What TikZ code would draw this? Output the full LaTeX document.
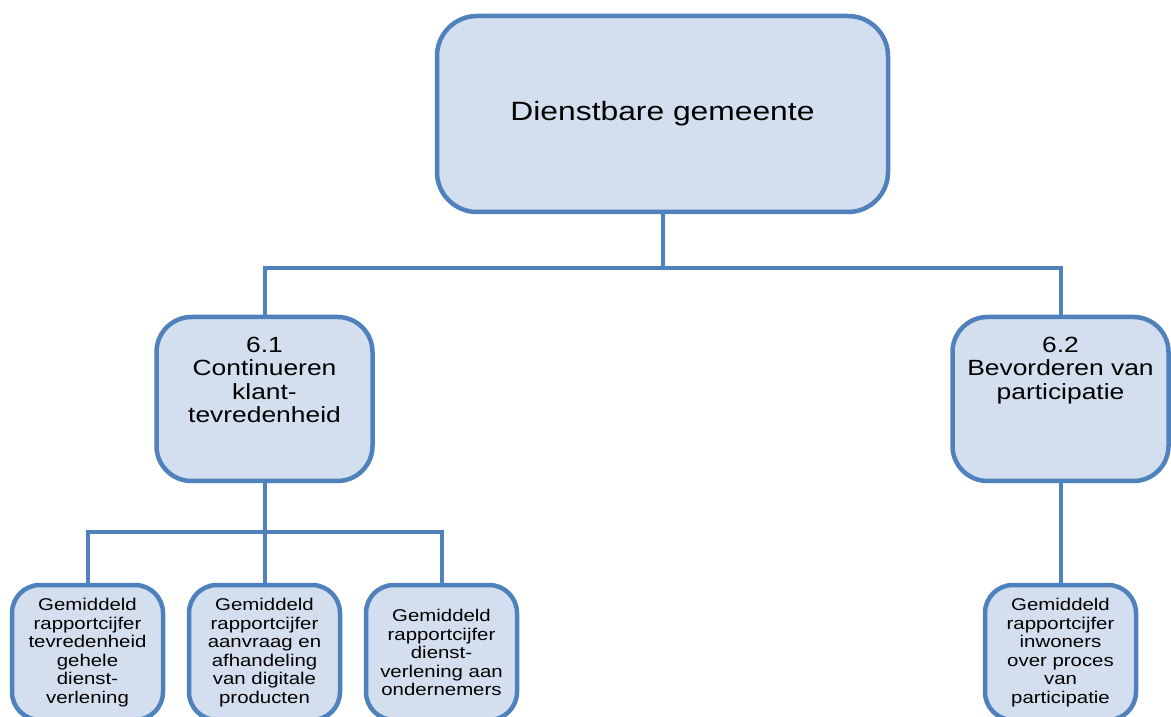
\documentclass[tikz,border=0pt]{standalone}
\usepackage{fontspec}
\setmainfont{Liberation Sans}[FakeStretch=1.2]
\usetikzlibrary{positioning}
\usepackage{xcolor}
\definecolor{boxline}{HTML}{4F81BD}
\definecolor{boxfill}{HTML}{D3DFEE}

\begin{document}
\begin{tikzpicture}[
    every node/.style={draw=boxline, fill=boxfill, line width=4.5pt, align=center},
    topbox/.style={rounded corners=40pt, minimum width=451pt, minimum height=196pt, font=\fontsize{26.5}{30}\selectfont},
    goalbox/.style={rounded corners=35pt, inner sep=0pt, text width=216pt, text height=35.5pt, text depth=128.5pt, font=\fontsize{22}{23.5}\selectfont},
    kpibox/.style={rounded corners=28pt, inner sep=0pt, minimum width=151pt, minimum height=135pt, text width=140pt, font=\fontsize{17}{18.5}\selectfont},
    edge from parent/.style={draw=boxline, line width=4pt},
    level 1/.style={sibling distance=796pt, level distance=285pt,
        edge from parent path={(\tikzparentnode.south) -- ++(0,-54pt) -| (\tikzchildnode.north)}},
    level 2/.style={sibling distance=177pt, level distance=253.5pt,
        edge from parent path={(\tikzparentnode.south) -- ++(0,-49pt) -| (\tikzchildnode.north)}}
]
\useasboundingbox (0,0) rectangle (1171pt,716pt);

\node[topbox] (gemeente) at (662.5pt,602pt) {Dienstbare gemeente}
    child {node[goalbox] (klant) {6.1\\Continueren\\klant-\\tevredenheid}
        child {node[kpibox] (gehele) {Gemiddeld\\rapportcijfer\\tevredenheid\\gehele\\dienst-\\verlening}}
        child {node[kpibox] (digitaal) {Gemiddeld\\rapportcijfer\\aanvraag en\\afhandeling\\van digitale\\producten}}
        child {node[kpibox] (ondernemers) {Gemiddeld\\rapportcijfer\\dienst-\\verlening aan\\ondernemers}}
    }
    child {node[goalbox] (participatie) {6.2\\Bevorderen van\\participatie}
        child {node[kpibox] (inwoners) {Gemiddeld\\rapportcijfer\\inwoners\\over proces\\van\\participatie}}
    };
\end{tikzpicture}
\end{document}
